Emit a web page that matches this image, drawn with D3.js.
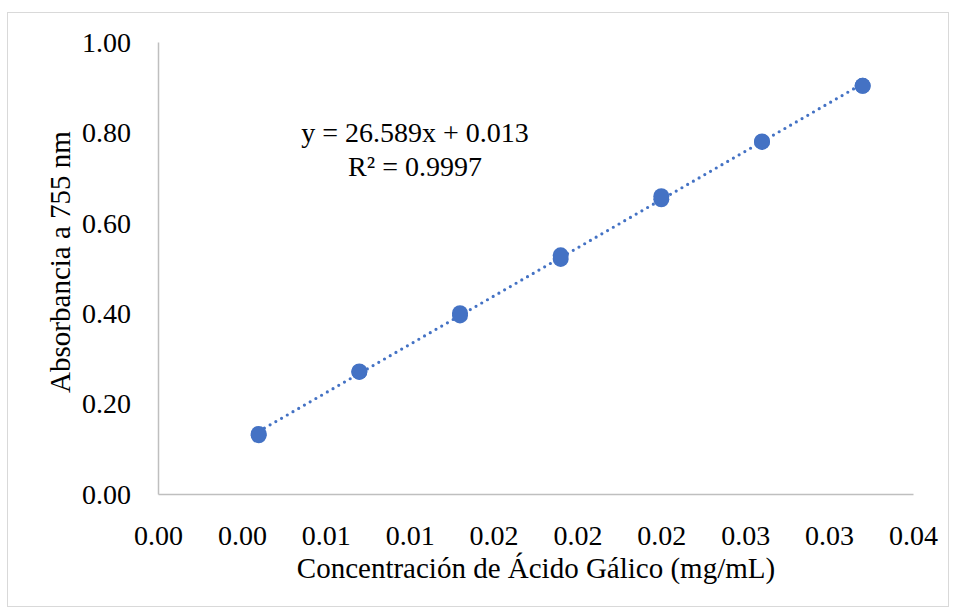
<!DOCTYPE html>
<html>
<head>
<meta charset="utf-8">
<script src="https://cdn.jsdelivr.net/npm/d3@7"></script>
<style>
  body { margin: 0; background: #fff; }
  text { font-family: "Liberation Serif", "Times New Roman", serif; fill: #000; }
</style>
</head>
<body>
<div id="chart"></div>
<script>
// Data
const concentration = [0.0048, 0.0096, 0.0144, 0.0192, 0.0240, 0.0288, 0.0336];
const absorbanceRep1 = [0.130, 0.270, 0.395, 0.520, 0.652, 0.779, 0.903];
const absorbanceRep2 = [0.133, 0.271, 0.400, 0.528, 0.659, 0.780, 0.903];
const xTicks = [0, 0.004, 0.008, 0.012, 0.016, 0.020, 0.024, 0.028, 0.032, 0.036];
const yTicks = [0, 0.2, 0.4, 0.6, 0.8, 1.0];
const equationLines = ["y = 26.589x + 0.013", "R² = 0.9997"];

const W = 956, H = 613;
const margin = { top: 42, right: 43, bottom: 119, left: 158 };
const width = W - margin.left - margin.right,
      height = H - margin.top - margin.bottom;
const blue = "#4472C4";

const svg = d3.select("#chart").append("svg")
    .attr("width", W)
    .attr("height", H);

// chart border
svg.append("rect")
    .attr("x", 7.5).attr("y", 12.5)
    .attr("width", 941).attr("height", 594)
    .attr("fill", "none")
    .attr("stroke", "#d9d9d9")
    .attr("stroke-width", 1);

const g = svg.append("g")
    .attr("transform", `translate(${margin.left}, ${margin.top})`);

const x = d3.scaleLinear().domain([0, 0.036]).range([0, width]);
const y = d3.scaleLinear().domain([0, 1]).range([height, 0]);

// axes
const xAxis = g.append("g")
    .attr("transform", `translate(0, ${height})`)
    .call(d3.axisBottom(x).tickValues(xTicks).tickSize(0).tickPadding(31)
        .tickFormat(d3.format(".2f")));
const yAxis = g.append("g")
    .call(d3.axisLeft(y).tickValues(yTicks).tickSize(0).tickPadding(27)
        .tickFormat(d3.format(".2f")));

[xAxis, yAxis].forEach(a => {
    a.select(".domain").attr("stroke", "#bfbfbf").attr("stroke-width", 1.5);
    a.selectAll("text").style("font-size", "28px").style("font-family", "Liberation Serif, serif");
});
xAxis.selectAll("text").attr("dy", "0.71em");
yAxis.selectAll("text").attr("dy", "0.33em");

// axis titles
svg.append("text")
    .attr("x", 536).attr("y", 578)
    .attr("text-anchor", "middle")
    .style("font-size", "29px")
    .text("Concentración de Ácido Gálico (mg/mL)");

svg.append("text")
    .attr("transform", "translate(70, 262) rotate(-90)")
    .attr("text-anchor", "middle")
    .style("font-size", "29px")
    .text("Absorbancia a 755 nm");

// linear trend line (least squares over all replicates)
const pts = [];
concentration.forEach((c, i) => {
    pts.push([c, absorbanceRep1[i]]);
    pts.push([c, absorbanceRep2[i]]);
});
const mx = d3.mean(pts, d => d[0]), my = d3.mean(pts, d => d[1]);
const slope = d3.sum(pts, d => (d[0] - mx) * (d[1] - my)) / d3.sum(pts, d => (d[0] - mx) ** 2);
const intercept = my - slope * mx;
const xExt = d3.extent(concentration);

g.append("line")
    .attr("x1", x(xExt[0])).attr("y1", y(slope * xExt[0] + intercept))
    .attr("x2", x(xExt[1])).attr("y2", y(slope * xExt[1] + intercept))
    .attr("stroke", blue)
    .attr("stroke-width", 3.2)
    .attr("stroke-linecap", "round")
    .attr("stroke-dasharray", "0 6.6");

// markers
g.selectAll("circle.pt")
    .data(pts)
    .enter().append("circle")
    .attr("class", "pt")
    .attr("cx", d => x(d[0]))
    .attr("cy", d => y(d[1]))
    .attr("r", 8)
    .attr("fill", blue);

// equation label
const eq = svg.append("text")
    .attr("text-anchor", "middle")
    .style("font-size", "28px");
equationLines.forEach((t, i) => {
    eq.append("tspan")
        .attr("x", 415)
        .attr("y", 142 + i * 34)
        .text(t);
});
</script>
</body>
</html>
